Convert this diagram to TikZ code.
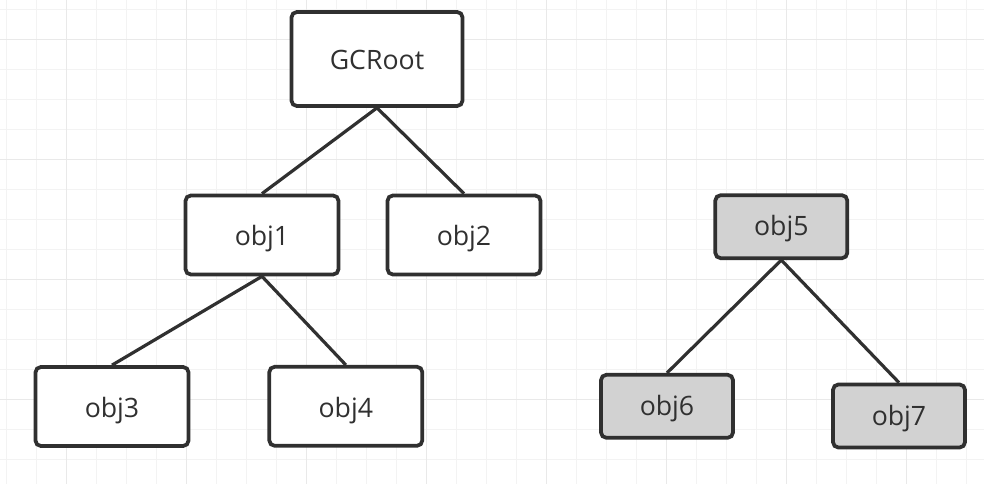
\documentclass[tikz,border=0pt]{standalone}
\usepackage{fontspec}
\setmainfont{Open Sans}
\definecolor{ink}{HTML}{303030}
\definecolor{gridminor}{HTML}{F3F3F3}
\definecolor{gridmajor}{HTML}{E9E9E9}
\definecolor{greyfill}{HTML}{D2D2D2}
\tikzset{
  objbox/.style={draw=ink, line width=2.8pt, rounded corners=4pt, fill=white,
    text=ink, inner sep=0pt, font=\fontsize{20}{24}\selectfont,
    text height=16.5pt, text depth=0pt,
    minimum width=114.75pt, minimum height=59.25pt},
  rootbox/.style={objbox, minimum width=128.25pt, minimum height=70.5pt},
  deadbox/.style={objbox, fill=greyfill, text height=13.5pt,
    minimum width=99pt, minimum height=47.25pt},
  link/.style={draw=ink, line width=2.4pt}
}
\begin{document}
\begin{tikzpicture}[x=0.75pt, y=-0.75pt]
  \useasboundingbox (0,0) rectangle (984,484);
  \fill[white] (0,0) rectangle (984,484);
  % grid
  \foreach \k in {0,...,32} {
    \pgfmathsetmacro{\gx}{6.7+30*\k}
    \draw[gridminor, line width=0.9pt] (\gx,0) -- (\gx,484);
  }
  \foreach \k in {0,...,15} {
    \pgfmathsetmacro{\gy}{9.5+30*\k}
    \draw[gridminor, line width=0.9pt] (0,\gy) -- (984,\gy);
  }
  \foreach \k in {0,...,7} {
    \pgfmathsetmacro{\gx}{66.7+120*\k}
    \draw[gridmajor, line width=0.9pt] (\gx,0) -- (\gx,484);
  }
  \foreach \k in {0,...,3} {
    \pgfmathsetmacro{\gy}{39.5+120*\k}
    \draw[gridmajor, line width=0.9pt] (0,\gy) -- (984,\gy);
  }
  % nodes
  \node[rootbox] (root) at (377,59) {GCRoot};
  \node[objbox] (o1) at (262,235) {obj1};
  \node[objbox] (o2) at (464,235) {obj2};
  \node[objbox] (o3) at (112,406.5) {obj3};
  \node[objbox] (o4) at (345.8,406.3) {obj4};
  \node[deadbox] (o5) at (781.3,226.7) {obj5};
  \node[deadbox] (o6) at (667,406.3) {obj6};
  \node[deadbox] (o7) at (899,416) {obj7};
  % links
  \draw[link] (root.south) -- (o1.north);
  \draw[link] (root.south) -- (o2.north);
  \draw[link] (o1.south) -- (o3.north);
  \draw[link] (o1.south) -- (o4.north);
  \draw[link] (o5.south) -- (o6.north);
  \draw[link] (o5.south) -- (o7.north);
\end{tikzpicture}
\end{document}
